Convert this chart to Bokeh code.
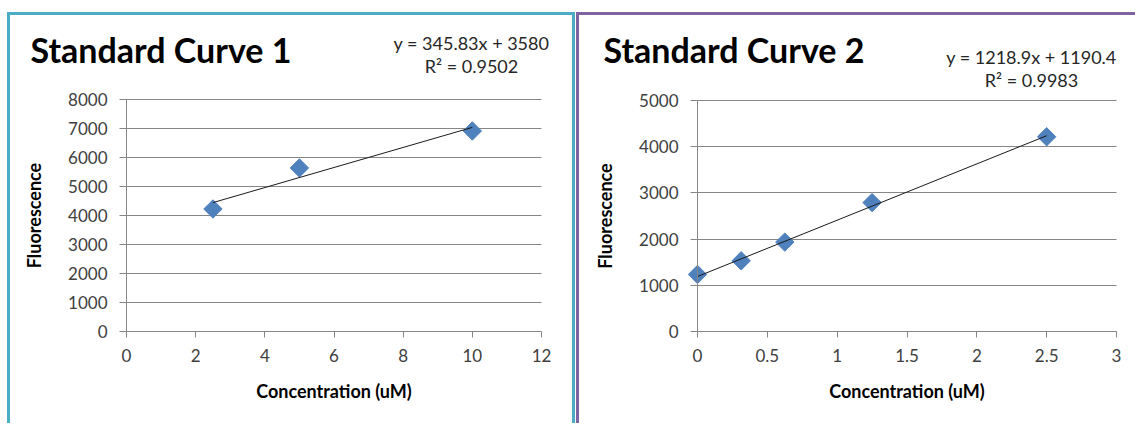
import math
from bokeh.plotting import figure
from bokeh.layouts import row
from bokeh.models import Range1d, FixedTicker, Label, ColumnDataSource
from bokeh.embed import file_html
from bokeh.resources import INLINE

# ---------------- data ----------------
conc_1 = [2.5, 5, 10]
fluor_1 = [4225, 5640, 6915]
conc_2 = [0, 0.3125, 0.625, 1.25, 2.5]
fluor_2 = [1235, 1530, 1935, 2790, 4215]

fit_slope = [345.83, 1218.9]
fit_intercept = [3580, 1190.4]

titles = ["Standard Curve 1", "Standard Curve 2"]
eq_texts = ["y = 345.83x + 3580", "y = 1218.9x + 1190.4"]
r2_texts = ["R\u00b2 = 0.9502", "R\u00b2 = 0.9983"]

x_ticks_1 = [0, 2, 4, 6, 8, 10, 12]
x_tick_labels_1 = ["0", "2", "4", "6", "8", "10", "12"]
y_ticks_1 = [0, 1000, 2000, 3000, 4000, 5000, 6000, 7000, 8000]
x_ticks_2 = [0, 0.5, 1, 1.5, 2, 2.5, 3]
x_tick_labels_2 = ["0", "0.5", "1", "1.5", "2", "2.5", "3"]
y_ticks_2 = [0, 1000, 2000, 3000, 4000, 5000]

x_label = "Concentration (uM)"
y_label = "Fluorescence"

FONT = "Lato"
GRID = "#868686"
MARK = "#4F81BD"


def panel(xs, ys, slope, intercept, title, eq, r2, xt, xtl, yt,
          border_styles, canvas, axes_px, title_px, eq_px):
    # canvas: (left, top, width, height) on the page
    # axes_px: page pixels of (x min tick, x max tick, y max tick, y min tick)
    cl, ct, cw, ch = canvas
    ax0, ax1, ay1, ay0 = axes_px
    xmin, xmax = xt[0], xt[-1]
    ymin, ymax = yt[0], yt[-1]
    kx = (xmax - xmin) / (ax1 - ax0)
    ky = (ymax - ymin) / (ay0 - ay1)

    def dx(px):
        return xmin + (px - ax0) * kx

    def dy(py):
        return ymin + (ay0 - py) * ky

    p = figure(width=cw, height=ch, output_backend="svg", toolbar_location=None,
               x_range=Range1d(dx(cl), dx(cl + cw)),
               y_range=Range1d(dy(ct + ch), dy(ct)), min_border=0)
    p.styles = border_styles
    p.outline_line_color = None
    p.background_fill_color = "white"
    p.border_fill_color = "white"

    # axes placed at the data origin
    p.xaxis.ticker = FixedTicker(ticks=xt)
    p.xaxis.major_label_overrides = {t: l for t, l in zip(xt, xtl)}
    p.yaxis.ticker = FixedTicker(ticks=yt)
    p.yaxis.major_label_overrides = {t: str(t) for t in yt}
    p.xaxis.fixed_location = ymin
    p.yaxis.fixed_location = xmin
    p.xaxis.bounds = (xmin, xmax)
    p.yaxis.bounds = (ymin, ymax)
    for ax in (p.xaxis[0], p.yaxis[0]):
        ax.axis_line_color = GRID
        ax.major_tick_line_color = GRID
        ax.minor_tick_line_color = None
        ax.major_tick_in = 0
        ax.major_label_text_font = FONT
        ax.major_label_text_font_size = "17px"
        ax.major_label_text_color = "#404040"
        ax.axis_label_text_font = FONT
        ax.axis_label_text_font_style = "bold"
        ax.axis_label_text_font_size = "18px"
        ax.axis_label_text_color = "black"
    p.xaxis.major_tick_out = 6
    p.yaxis.major_tick_out = 7
    p.xaxis.major_label_standoff = 11
    p.yaxis.major_label_standoff = 12
    p.xaxis.axis_label = x_label
    p.yaxis.axis_label = y_label
    p.xaxis.axis_label_standoff = 15
    p.yaxis.axis_label_standoff = 20

    p.xgrid.grid_line_color = None
    g = p.ygrid[0]
    g.grid_line_color = GRID
    g.grid_line_width = 1
    g.ticker = FixedTicker(ticks=yt)
    if "cross_bounds" in g.properties():
        g.cross_bounds = (xmin, xmax)
    else:
        g.grid_line_color = None
        p.segment(x0=[xmin] * len(yt), y0=yt, x1=[xmax] * len(yt), y1=yt,
                  line_color=GRID, line_width=1)

    src = ColumnDataSource(dict(x=xs, y=ys))
    p.scatter("x", "y", source=src, marker="square", size=13, angle=math.pi / 4,
              fill_color=MARK, line_color=MARK)

    x0, x1 = min(xs), max(xs)
    p.line([x0, x1], [slope * x0 + intercept, slope * x1 + intercept],
           line_color="#1a1a1a", line_width=1)

    p.add_layout(Label(x=dx(title_px[0]), y=dy(title_px[1]), text=title,
                       text_font=FONT, text_font_style="bold", text_font_size="34px",
                       text_color="black", text_baseline="alphabetic", text_align="left"))
    p.add_layout(Label(x=dx(eq_px[0]), y=dy(eq_px[1]), text=eq,
                       text_font=FONT, text_font_size="18px", text_color="#262626",
                       text_baseline="alphabetic", text_align="center"))
    p.add_layout(Label(x=dx(eq_px[0]), y=dy(eq_px[2]), text=r2,
                       text_font=FONT, text_font_size="18px", text_color="#262626",
                       text_baseline="alphabetic", text_align="center"))
    return p


p1 = panel(conc_1, fluor_1, fit_slope[0], fit_intercept[0], titles[0], eq_texts[0], r2_texts[0],
           x_ticks_1, x_tick_labels_1, y_ticks_1,
           {"border-top": "3px solid #4BACC6", "border-left": "3px solid #4BACC6",
            "border-right": "3px solid #4BACC6", "margin-top": "12px", "margin-left": "7px"},
           (10, 15, 568, 411), (126, 541, 99, 331), (30, 49), (471, 42.5, 65))

p2 = panel(conc_2, fluor_2, fit_slope[1], fit_intercept[1], titles[1], eq_texts[1], r2_texts[1],
           x_ticks_2, x_tick_labels_2, y_ticks_2,
           {"border-top": "3px solid #8064A2", "border-left": "3px solid #8064A2",
            "margin-top": "12px", "margin-left": "1px"},
           (579, 15, 559, 411), (697, 1116, 100, 331), (603, 49), (1031, 56.5, 79))

layout = row(p1, p2)
open("out.html", "w").write(file_html(layout, INLINE))
